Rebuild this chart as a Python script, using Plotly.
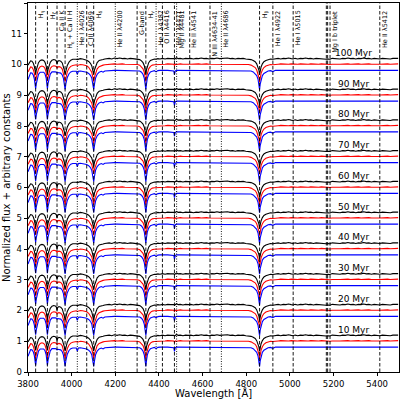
import plotly.graph_objects as go

# ---------------- data ----------------
WAVE = [
    3800, 3806, 3812, 3818, 3824, 3829, 3832, 3835, 3838, 3842,
    3848, 3856, 3864, 3872, 3878, 3883, 3886, 3889, 3892, 3896,
    3902, 3910, 3918, 3925, 3930, 3933, 3936, 3942, 3950, 3957,
    3962, 3966, 3970, 3974, 3980, 3988, 3996, 4005, 4014, 4021,
    4026, 4031, 4040, 4050, 4060, 4069, 4078, 4086, 4092, 4097,
    4101, 4105, 4110, 4117, 4126, 4136, 4144, 4152, 4162, 4172,
    4184, 4196, 4208, 4220, 4232, 4244, 4256, 4268, 4280, 4292,
    4302, 4312, 4320, 4327, 4333, 4337, 4340, 4343, 4347, 4353,
    4361, 4370, 4379, 4387, 4395, 4405, 4416, 4428, 4440, 4452,
    4462, 4468, 4471, 4475, 4481, 4488, 4498, 4510, 4522, 4534,
    4546, 4558, 4570, 4582, 4594, 4606, 4618, 4630, 4642, 4654,
    4666, 4678, 4690, 4702, 4714, 4726, 4738, 4750, 4762, 4774,
    4786, 4798, 4810, 4822, 4832, 4841, 4848, 4854, 4858, 4861,
    4864, 4868, 4874, 4881, 4890, 4900, 4911, 4922, 4934, 4946,
    4958, 4970, 4982, 4994, 5006, 5015, 5024, 5036, 5048, 5060,
    5072, 5084, 5096, 5108, 5120, 5132, 5144, 5156, 5167, 5175,
    5184, 5194, 5206, 5218, 5230, 5242, 5254, 5266, 5278, 5290,
    5302, 5314, 5326, 5338, 5350, 5362, 5374, 5386, 5398, 5412,
    5424, 5436, 5448, 5460, 5472, 5484, 5496,
]

FLUX_BLACK = [
    0.78, 0.88, 0.92, 0.91, 0.85, 0.74, 0.62, 0.50, 0.62, 0.75,
    0.86, 0.93, 0.95, 0.93, 0.87, 0.76, 0.64, 0.50, 0.64, 0.76,
    0.87, 0.94, 0.96, 0.95, 0.91, 0.80, 0.90, 0.93, 0.91, 0.85,
    0.76, 0.63, 0.48, 0.63, 0.77, 0.88, 0.94, 0.97, 0.98, 0.97,
    0.96, 0.98, 0.99, 0.98, 0.97, 0.94, 0.90, 0.84, 0.76, 0.63,
    0.48, 0.63, 0.76, 0.86, 0.93, 0.96, 0.96, 0.98, 0.99, 1.00,
    0.98, 1.01, 0.99, 1.01, 0.99, 1.00, 0.98, 1.00, 0.99, 0.98,
    0.97, 0.96, 0.92, 0.86, 0.76, 0.63, 0.48, 0.63, 0.76, 0.86,
    0.93, 0.96, 0.98, 0.97, 0.99, 0.98, 1.00, 0.98, 1.00, 0.99,
    1.00, 0.99, 0.97, 1.00, 1.02, 0.99, 1.00, 0.98, 1.00, 0.99,
    1.00, 0.98, 1.00, 0.99, 1.01, 0.99, 1.00, 0.98, 1.00, 0.99,
    1.01, 0.99, 1.00, 0.99, 1.01, 0.99, 1.00, 0.98, 1.00, 0.99,
    1.00, 0.98, 0.98, 0.96, 0.93, 0.89, 0.82, 0.72, 0.62, 0.47,
    0.62, 0.72, 0.82, 0.89, 0.93, 0.96, 0.98, 0.97, 0.99, 1.00,
    0.98, 1.00, 0.99, 1.01, 0.99, 0.98, 1.00, 0.98, 1.00, 0.99,
    1.01, 0.99, 1.00, 0.98, 1.00, 0.99, 1.00, 0.99, 0.97, 0.98,
    0.97, 1.00, 0.99, 1.00, 0.98, 1.00, 0.99, 1.01, 0.99, 1.00,
    0.98, 1.00, 0.99, 1.01, 0.99, 1.00, 0.98, 1.00, 0.99, 0.98,
    1.00, 0.99, 1.00, 0.98, 1.00, 0.99, 1.00,
]

FLUX_RED = [
    0.74, 0.85, 0.90, 0.89, 0.82, 0.70, 0.56, 0.44, 0.56, 0.71,
    0.83, 0.91, 0.93, 0.91, 0.85, 0.73, 0.58, 0.44, 0.58, 0.73,
    0.85, 0.92, 0.94, 0.93, 0.91, 0.86, 0.90, 0.91, 0.89, 0.83,
    0.73, 0.58, 0.42, 0.58, 0.74, 0.86, 0.92, 0.95, 0.97, 0.97,
    0.95, 0.97, 0.98, 0.97, 0.96, 0.94, 0.89, 0.82, 0.73, 0.58,
    0.42, 0.58, 0.73, 0.84, 0.91, 0.95, 0.96, 0.97, 0.98, 0.99,
    0.99, 1.00, 0.99, 1.00, 1.00, 0.99, 0.99, 1.00, 0.99, 0.99,
    0.98, 0.96, 0.91, 0.84, 0.72, 0.57, 0.42, 0.57, 0.72, 0.84,
    0.92, 0.96, 0.97, 0.97, 0.98, 0.99, 0.99, 0.99, 1.00, 0.99,
    1.00, 0.99, 0.95, 0.99, 0.98, 0.99, 1.00, 0.99, 1.00, 0.99,
    0.99, 1.00, 0.99, 1.00, 0.99, 1.00, 1.00, 0.99, 0.99, 1.00,
    1.00, 0.99, 1.00, 0.99, 1.00, 0.99, 1.00, 0.99, 1.00, 0.99,
    0.99, 0.99, 0.98, 0.96, 0.93, 0.88, 0.80, 0.69, 0.56, 0.41,
    0.56, 0.69, 0.80, 0.88, 0.93, 0.96, 0.98, 0.97, 0.99, 0.99,
    1.00, 0.99, 1.00, 0.99, 1.00, 0.99, 1.00, 0.99, 1.00, 0.99,
    1.00, 0.99, 1.00, 0.99, 1.00, 0.99, 1.00, 0.99, 0.98, 0.98,
    0.98, 0.99, 1.00, 0.99, 0.99, 1.00, 0.99, 1.00, 0.99, 1.00,
    0.99, 1.00, 0.99, 1.00, 0.99, 1.00, 0.99, 1.00, 0.99, 0.99,
    1.00, 0.99, 1.00, 0.99, 1.00, 0.99, 1.00,
]

FLUX_BLUE = [
    0.70, 0.85, 0.92, 0.91, 0.85, 0.72, 0.56, 0.40, 0.56, 0.74,
    0.87, 0.94, 0.95, 0.94, 0.88, 0.76, 0.58, 0.40, 0.58, 0.76,
    0.88, 0.95, 0.96, 0.95, 0.94, 0.91, 0.93, 0.93, 0.91, 0.85,
    0.75, 0.57, 0.38, 0.58, 0.77, 0.89, 0.95, 0.97, 0.98, 0.97,
    0.87, 0.97, 0.98, 0.97, 0.96, 0.94, 0.90, 0.84, 0.75, 0.57,
    0.38, 0.57, 0.76, 0.87, 0.94, 0.97, 0.94, 0.98, 0.99, 1.00,
    1.00, 1.00, 1.00, 1.00, 1.00, 1.00, 1.00, 1.00, 1.00, 0.99,
    0.99, 0.98, 0.94, 0.87, 0.74, 0.56, 0.38, 0.56, 0.75, 0.87,
    0.95, 0.97, 0.99, 0.95, 0.99, 1.00, 0.99, 1.00, 1.00, 1.00,
    1.00, 0.98, 0.86, 0.98, 1.00, 1.00, 1.00, 1.00, 1.00, 1.00,
    1.00, 1.00, 1.00, 1.00, 1.00, 1.00, 1.00, 1.00, 1.00, 1.00,
    1.00, 1.00, 1.00, 1.00, 0.99, 1.00, 1.00, 1.00, 1.00, 1.00,
    1.00, 1.00, 0.99, 0.98, 0.95, 0.90, 0.83, 0.71, 0.55, 0.37,
    0.55, 0.72, 0.83, 0.90, 0.95, 0.98, 0.99, 0.96, 1.00, 1.00,
    1.00, 1.00, 1.00, 1.00, 1.00, 0.98, 1.00, 1.00, 1.00, 1.00,
    1.00, 1.00, 1.00, 1.00, 1.00, 1.00, 1.00, 1.00, 1.00, 1.00,
    1.00, 1.00, 1.00, 1.00, 1.00, 1.00, 1.00, 1.00, 1.00, 1.00,
    1.00, 1.00, 1.00, 1.00, 1.00, 1.00, 1.00, 1.00, 1.00, 0.99,
    1.00, 1.00, 1.00, 1.00, 1.00, 1.00, 1.00,
]

AGE_LABELS = ["10 Myr", "20 Myr", "30 Myr", "40 Myr", "50 Myr",
              "60 Myr", "70 Myr", "80 Myr", "90 Myr", "100 Myr"]
OFFSET_BLACK = [0.20, 1.20, 2.20, 3.20, 4.20, 5.20, 6.20, 7.20, 8.20, 9.20]
OFFSET_RED = [0.02, 1.02, 2.02, 3.02, 4.02, 5.02, 6.02, 7.02, 8.02, 9.02]
OFFSET_BLUE = [-0.19, 0.81, 1.81, 2.81, 3.81, 4.81, 5.81, 6.81, 7.81, 8.81]
AGE_LABEL_Y = [1.38, 2.38, 3.38, 4.38, 5.38, 6.38, 7.38, 8.38, 9.38, 10.38]
AGE_LABEL_X = 5290

LINE_WAVES = [3835, 3889, 3933, 3970, 4026, 4069, 4101, 4200, 4300, 4340,
              4387, 4416, 4471, 4481, 4541, 4634, 4686, 4861, 4922, 5015,
              5167, 5173, 5184, 5412]
LINE_DASH = ["dash", "dash", "dash", "dash", "dot", "dash", "dash", "dot", "dash", "dash",
             "dot", "dash", "dash", "dot", "dash", "dash", "dot", "dash", "dash", "dash",
             "dash", "dash", "dash", "dash"]
LABEL_WAVES = [3835, 3889, 3933, 3970, 4026, 4069, 4101, 4200, 4300, 4340,
               4387, 4416, 4471, 4481, 4541, 4634, 4686, 4861, 4922, 5015,
               5184, 5412]
LABEL_TEXTS = ["H<sub>η</sub>", "H<sub>ζ</sub>", "Ca II K", "H<sub>ε</sub> + Ca II H",
               "He I λ4026", "C III λ4069", "H<sub>δ</sub>", "He II λ4200", "G-band",
               "H<sub>γ</sub>", "He I λ4387", "O II λ4416", "He I λ4471", "Mg II λ4481",
               "He II λ4541", "N III λ4634-41", "He II λ4686", "H<sub>β</sub>",
               "He I λ4922", "He I λ5015", "Mg I b triplet", "He II λ5412"]

X_TICKS = [3800, 4000, 4200, 4400, 4600, 4800, 5000, 5200, 5400]
Y_TICKS = [0, 1, 2, 3, 4, 5, 6, 7, 8, 9, 10, 11, 12]

# ---------------- figure ----------------
FONT = "DejaVu Sans"
fig = go.Figure()


def stacked(flux, offsets):
    xs, ys = [], []
    for off in offsets:
        xs += WAVE + [None]
        ys += [f + off for f in flux] + [None]
    return xs, ys


for flux, offs, col in [(FLUX_BLACK, OFFSET_BLACK, "#000000"),
                        (FLUX_RED, OFFSET_RED, "#ff0000"),
                        (FLUX_BLUE, OFFSET_BLUE, "#0000ff")]:
    xs, ys = stacked(flux, offs)
    fig.add_trace(go.Scatter(x=xs, y=ys, mode="lines",
                             line=dict(color=col, width=1.1),
                             hoverinfo="skip", showlegend=False))

for w, d in zip(LINE_WAVES, LINE_DASH):
    fig.add_shape(type="line", xref="x", yref="paper", x0=w, x1=w, y0=0, y1=1,
                  line=dict(color="black", width=0.9,
                            dash="3.5px,2px" if d == "dash" else "1px,1.5px"),
                  layer="above")

annotations = []
for w, t in zip(LABEL_WAVES, LABEL_TEXTS):
    annotations.append(dict(x=w, y=11.78, xref="x", yref="y", text=t,
                            textangle=-90, xanchor="left", yanchor="top",
                            showarrow=False, borderpad=0,
                            font=dict(family=FONT, size=6.5, color="black")))
for lab, yv in zip(AGE_LABELS, AGE_LABEL_Y):
    annotations.append(dict(x=AGE_LABEL_X, y=yv, xref="x", yref="y", text=lab,
                            xanchor="center", yanchor="middle", showarrow=False,
                            font=dict(family=FONT, size=9, color="black")))
annotations.append(dict(x=0.5, y=-0.056, xref="paper", yref="paper",
                        text="Wavelength [Å]", xanchor="center", yanchor="middle",
                        showarrow=False, font=dict(family=FONT, size=10, color="black")))
annotations.append(dict(x=-0.058, y=0.5, xref="paper", yref="paper",
                        text="Normalized flux + arbitrary constants", textangle=-90,
                        xanchor="center", yanchor="middle",
                        showarrow=False, font=dict(family=FONT, size=10, color="black")))

fig.update_layout(
    width=400, height=399,
    margin=dict(l=28, r=1, t=3, b=27),
    paper_bgcolor="white", plot_bgcolor="white",
    annotations=annotations,
    showlegend=False,
    xaxis=dict(range=[3800, 5500], tickvals=X_TICKS, ticks="outside", ticklen=3.5,
               tickwidth=0.8, tickcolor="black", showline=True, linecolor="black",
               linewidth=0.8, mirror=True, showgrid=False, zeroline=False,
               tickfont=dict(family=FONT, size=8.5, color="black")),
    yaxis=dict(range=[0, 12], tickvals=Y_TICKS, ticks="outside", ticklen=3.5,
               tickwidth=0.8, tickcolor="black", showline=True, linecolor="black",
               linewidth=0.8, mirror=True, showgrid=False, zeroline=False,
               tickfont=dict(family=FONT, size=8.5, color="black")),
)

fig.write_html("out.html")
